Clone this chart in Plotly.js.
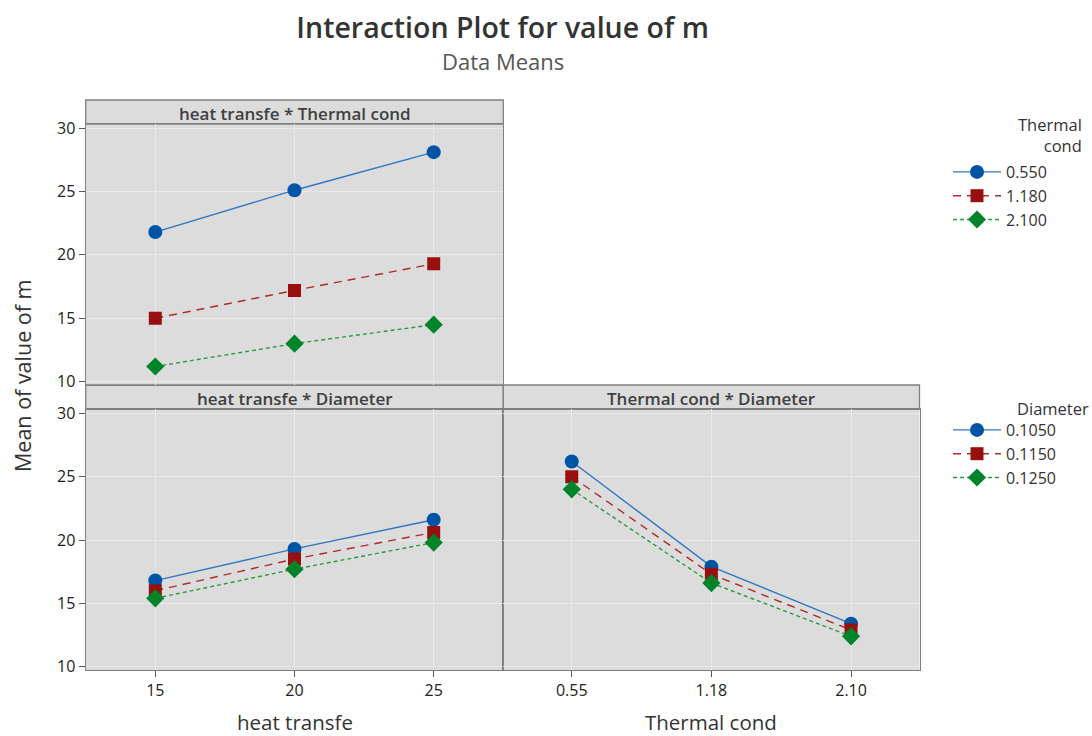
<!DOCTYPE html>
<html>
<head>
<meta charset="utf-8">
<script src="https://cdn.plot.ly/plotly-3.0.1.min.js"></script>
<style>html,body{margin:0;padding:0;background:#fff;}#chart{width:1092px;height:736px;}</style>
</head>
<body>
<div id="chart"></div>
<script>
// ---- data ----
const heatTransfe = [15, 20, 25];
const thermalCond = ['0.55', '1.18', '2.10'];
const thermalLevels = ['0.550', '1.180', '2.100'];
const diameterLevels = ['0.1050', '0.1150', '0.1250'];

// heat transfe * Thermal cond (one array per Thermal cond level)
const heatTc055 = [21.8, 25.1, 28.1];
const heatTc118 = [15.0, 17.2, 19.3];
const heatTc210 = [11.2, 13.0, 14.5];

// heat transfe * Diameter
const heatD1050 = [16.8, 19.3, 21.6];
const heatD1150 = [16.0, 18.5, 20.6];
const heatD1250 = [15.4, 17.7, 19.8];

// Thermal cond * Diameter
const tcD1050 = [26.2, 17.9, 13.4];
const tcD1150 = [25.0, 17.3, 12.9];
const tcD1250 = [24.0, 16.6, 12.4];

const yTicks = [10, 15, 20, 25, 30];

// ---- styles ----
const FONT = 'Open Sans, Noto Sans, sans-serif';
const markerColors = ['#0054a6', '#980f0f', '#00842a'];
const lineColors = ['#3076c4', '#b02a2a', '#2a9a40'];
const symbols = ['circle', 'square', 'diamond'];
const dashes = ['solid', '8px,6px', '4px,3px'];
const markerSizes = [14, 13, 14];

function mk(x, y, i, name, xa, ya, legend, show) {
  return {
    type: 'scatter', mode: 'lines+markers', x: x, y: y, name: name,
    xaxis: xa, yaxis: ya, legend: legend, showlegend: show,
    line: {color: lineColors[i], width: 1.4, dash: dashes[i]},
    marker: {color: markerColors[i], symbol: symbols[i], size: markerSizes[i]},
    hoverinfo: 'x+y+name'
  };
}

const tcSeries = [heatTc055, heatTc118, heatTc210];
const hdSeries = [heatD1050, heatD1150, heatD1250];
const tdSeries = [tcD1050, tcD1150, tcD1250];

const traces = [];
tcSeries.forEach((s, i) => traces.push(mk(heatTransfe, s, i, thermalLevels[i], 'x', 'y', 'legend', true)));
hdSeries.forEach((s, i) => traces.push(mk(heatTransfe, s, i, diameterLevels[i], 'x2', 'y2', 'legend2', true)));
tdSeries.forEach((s, i) => traces.push(mk(thermalCond, s, i, diameterLevels[i], 'x3', 'y3', 'legend2', false)));

// ---- layout geometry (px -> paper) ----
const W = 1092, H = 736;
const px = v => v / W;
const py = v => 1 - v / H;
const L = 85.7, M = 503.3, R = 919.5;
const topStrip = 100, topPlot = 124, midLine = 385, botPlot = 409.3, bottom = 670;

const yRange = [9.74, 30.32];
const gridC = '#e9e9e9';
const lineC = '#808080';
const tickFont = {family: FONT, size: 16, color: '#222'};

const baseX = {
  showgrid: true, gridcolor: gridC, gridwidth: 1, zeroline: false,
  showline: true, mirror: true, linecolor: lineC, linewidth: 1.3,
  tickfont: tickFont, fixedrange: true
};
const baseY = Object.assign({}, baseX, {range: yRange, tickvals: yTicks});

const legendFont = {family: FONT, size: 16, color: '#333'};

const layout = {
  width: W, height: H,
  margin: {l: 0, r: 0, t: 0, b: 0},
  paper_bgcolor: '#ffffff',
  plot_bgcolor: '#dcdcdc',
  font: {family: FONT, color: '#333'},
  title: {
    text: 'Interaction Plot for value of m',
    font: {family: FONT, size: 28.5, color: '#333', weight: 600},
    x: px((L + R) / 2), xanchor: 'center', xref: 'paper',
    y: py(28), yanchor: 'middle', yref: 'container'
  },
  xaxis: Object.assign({}, baseX, {domain: [px(L), px(M)], anchor: 'y', range: [12.5, 27.5],
    tickvals: heatTransfe, showticklabels: false, ticks: ''}),
  yaxis: Object.assign({}, baseY, {domain: [py(midLine), py(topPlot)], anchor: 'x',
    ticks: 'outside', ticklen: 6, tickcolor: '#555'}),
  xaxis2: Object.assign({}, baseX, {domain: [px(L), px(M)], anchor: 'y2', range: [12.5, 27.5],
    tickvals: heatTransfe, ticks: 'outside', ticklen: 6, tickcolor: '#555'}),
  yaxis2: Object.assign({}, baseY, {domain: [py(bottom), py(botPlot)], anchor: 'x2',
    ticks: 'outside', ticklen: 6, tickcolor: '#555'}),
  xaxis3: Object.assign({}, baseX, {domain: [px(M), px(R)], anchor: 'y3', type: 'category',
    range: [-0.49, 2.49], ticks: 'outside', ticklen: 6, tickcolor: '#555'}),
  yaxis3: Object.assign({}, baseY, {domain: [py(bottom), py(botPlot)], anchor: 'x3',
    showticklabels: false, ticks: ''}),
  legend: {
    x: px(948), y: py(155), xanchor: 'left', yanchor: 'top',
    bgcolor: 'rgba(0,0,0,0)', font: legendFont,
    itemwidth: 48, traceorder: 'normal'
  },
  legend2: {
    x: px(948), y: py(413), xanchor: 'left', yanchor: 'top',
    bgcolor: 'rgba(0,0,0,0)', font: legendFont,
    itemwidth: 48, traceorder: 'normal'
  },
  shapes: [
    {type: 'rect', xref: 'paper', yref: 'paper', x0: px(L), x1: px(M), y0: py(topPlot), y1: py(topStrip),
      fillcolor: '#dcdcdc', line: {color: lineC, width: 1.3}, layer: 'below'},
    {type: 'rect', xref: 'paper', yref: 'paper', x0: px(L), x1: px(M), y0: py(botPlot), y1: py(midLine),
      fillcolor: '#dcdcdc', line: {color: lineC, width: 1.3}, layer: 'below'},
    {type: 'rect', xref: 'paper', yref: 'paper', x0: px(M), x1: px(R), y0: py(botPlot), y1: py(midLine),
      fillcolor: '#dcdcdc', line: {color: lineC, width: 1.3}, layer: 'below'}
  ],
  annotations: [
    {text: 'Data Means', xref: 'paper', yref: 'paper', x: px((L + R) / 2), y: py(61),
      xanchor: 'center', yanchor: 'middle', showarrow: false,
      font: {family: FONT, size: 22, color: '#555'}},
    {text: 'heat transfe * Thermal cond', xref: 'paper', yref: 'paper', x: px((L + M) / 2), y: py(114),
      xanchor: 'center', yanchor: 'middle', showarrow: false,
      font: {family: FONT, size: 17, color: '#404040', weight: 600}},
    {text: 'heat transfe * Diameter', xref: 'paper', yref: 'paper', x: px((L + M) / 2), y: py(398.5),
      xanchor: 'center', yanchor: 'middle', showarrow: false,
      font: {family: FONT, size: 17, color: '#404040', weight: 600}},
    {text: 'Thermal cond * Diameter', xref: 'paper', yref: 'paper', x: px((M + R) / 2), y: py(398.5),
      xanchor: 'center', yanchor: 'middle', showarrow: false,
      font: {family: FONT, size: 17, color: '#404040', weight: 600}},
    {text: 'Mean of value of m', xref: 'paper', yref: 'paper', x: px(22), y: py(376),
      xanchor: 'center', yanchor: 'middle', textangle: -90, showarrow: false,
      font: {family: FONT, size: 21.5, color: '#333'}},
    {text: 'heat transfe', xref: 'paper', yref: 'paper', x: px((L + M) / 2), y: py(722),
      xanchor: 'center', yanchor: 'middle', showarrow: false,
      font: {family: FONT, size: 20.5, color: '#333'}},
    {text: 'Thermal cond', xref: 'paper', yref: 'paper', x: px((M + R) / 2), y: py(722),
      xanchor: 'center', yanchor: 'middle', showarrow: false,
      font: {family: FONT, size: 20.5, color: '#333'}},
    {text: 'Thermal<br>cond', xref: 'paper', yref: 'paper', x: px(1084), y: py(111),
      xanchor: 'right', yanchor: 'top', align: 'right', showarrow: false,
      font: {family: FONT, size: 16.5, color: '#333'}},
    {text: 'Diameter', xref: 'paper', yref: 'paper', x: px(1091), y: py(395),
      xanchor: 'right', yanchor: 'top', align: 'right', showarrow: false,
      font: {family: FONT, size: 16.5, color: '#333'}}
  ]
};

Plotly.newPlot('chart', traces, layout, {displayModeBar: false, staticPlot: false, responsive: false});
</script>
</body>
</html>
